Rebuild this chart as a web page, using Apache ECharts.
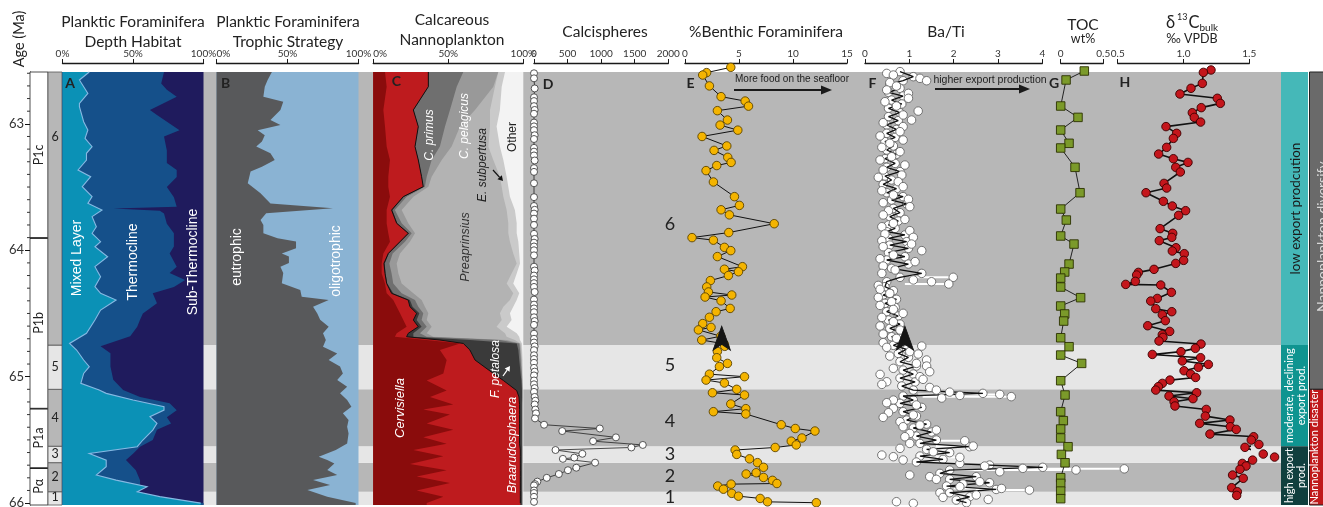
<!DOCTYPE html>
<html>
<head>
<meta charset="utf-8">
<script src="https://cdn.jsdelivr.net/npm/echarts@6/dist/echarts.min.js"></script>
<style>
html,body{margin:0;padding:0;background:#fff;}
#chart{width:1323px;height:507px;}
</style>
</head>
<body>
<div id="chart"></div>
<script>
// ---------------- axis extent & ticks ----------------
var AGE_MIN = 62.59, AGE_MAX = 66.015;
var ageTickLabels = [63, 64, 65, 66];
var ageMinorTicks = [62.6,62.7,62.8,62.9,63.1,63.2,63.3,63.4,63.5,63.6,63.7,63.8,63.9,64.1,64.2,64.3,64.4,64.5,64.6,64.7,64.8,64.9,65.1,65.2,65.3,65.4,65.5,65.6,65.7,65.8,65.9];

// ---------------- biozones & intervals ----------------
var zoneNames = ['P\u03b1', 'P1a', 'P1b', 'P1c'];
var zoneBase = [66.015, 65.72, 65.25, 63.90];
var zoneTop = [65.72, 65.25, 63.90, 62.59];

var intervalNames = ['1', '2', '3', '4', '5', '6'];
var intervalBase = [66.015, 65.91, 65.68, 65.55, 65.10, 64.75];
var intervalTop = [65.91, 65.68, 65.55, 65.10, 64.75, 62.59];
var intervalLabelAge = [65.955, 65.795, 65.615, 65.325, 64.925, 63.10];
var intervalBigLabelAge = [65.95, 65.786, 65.612, 65.349, 64.908, 63.79];

// ---------------- A: depth habitat ----------------
var mlAge = [62.59,62.653,62.759,62.838,62.864,62.983,63.049,63.115,63.181,63.233,63.286,63.365,63.418,63.497,63.576,63.629,63.682,63.734,63.814,63.866,63.932,63.972,64.051,64.130,64.209,64.288,64.341,64.394,64.473,64.552,64.657,64.737,64.789,64.868,64.921,64.974,65.053,65.106,65.132,65.185,65.238,65.264,65.317,65.369,65.422,65.501,65.554,65.607,65.660,65.712,65.778,65.818,65.870,65.910,65.949,66.0];
var mixedLayerPct = [19,12,18,12,12,15,18,16,21,17,17,11,20,14,21,18,28,21,24,21,27,23,32,23,27,23,27,38,27,23,17,5,10,15,19,15,13,26,31,50,72,72,62,67,64,57,53,19,31,31,24,38,60,53,69,98];
var tcAge = [62.59,62.68,62.73,62.785,62.89,62.93,63.05,63.10,63.21,63.31,63.365,63.42,63.50,63.58,63.655,63.67,63.687,63.71,63.79,63.866,63.97,64.025,64.13,64.18,64.235,64.29,64.34,64.42,64.50,64.55,64.605,64.68,64.76,64.815,64.92,65.025,65.105,65.16,65.21,65.265,65.32,65.37,65.42,65.50,65.555,65.61,65.66,65.74,65.82,65.925,65.975,66.0];
var mixedPlusThermoPct = [72,70,74,81,62,67,83,72,74,74,81,81,74,79,81,36,69,72,74,79,79,76,81,76,87,79,64,67,57,55,53,48,27,34,34,36,43,55,76,81,74,77,67,64,55,50,45,52,55,55,79,100];

// ---------------- B: trophic strategy ----------------
var trophAge = [62.59,62.653,62.706,62.785,62.825,62.89,62.97,63.01,63.05,63.09,63.14,63.18,63.233,63.286,63.34,63.378,63.47,63.55,63.63,63.668,63.708,63.76,63.80,63.866,63.906,63.93,63.985,64.025,64.05,64.10,64.13,64.18,64.26,64.315,64.367,64.394,64.446,64.50,64.55,64.605,64.657,64.71,64.763,64.816,64.868,64.92,64.974,65.027,65.08,65.132,65.185,65.238,65.29,65.343,65.396,65.449,65.528,65.58,65.633,65.66,65.686,65.739,65.778,65.818,65.857,65.897,65.949,66.0];
var eutrophicPct = [39,36,34,33,47,45,38,45,29,34,32,28,38,41,32,24,22,31,38,82,35,31,33,33,43,56,56,46,51,51,45,47,46,59,60,79,68,71,73,79,75,77,75,85,79,87,89,85,92,87,92,95,89,93,92,93,92,84,72,78,83,78,85,68,80,64,78,98];

// ---------------- C: calcareous nannoplankton (%) ----------------
var nannoAge = [62.59,62.706,62.89,63.022,63.18,63.286,63.418,63.497,63.576,63.682,63.787,63.866,63.932,64.025,64.104,64.183,64.262,64.341,64.394,64.446,64.499,64.552,64.605,64.657,64.684,64.71,64.737,64.789,64.868,64.974,65.03,65.11,65.16,65.22,65.26,65.30,65.37,65.42,65.48,65.53,65.58,65.63,65.69,65.74,65.79,65.84,65.90,65.95,66.0];
var cervisiella = [7.8,8.9,6.7,7.8,8.9,11.1,10,10,11.1,8.9, 8.9,10,11.1,6.7,5.6,5.6,7.8,8.9,13.3,15.6, 17.8,20,22.2,15.6,14.4,35.6,57.8,44.4,48.9,46.7, 35.6,48.9,37.8,53.3,33.3,51.1,35.6,53.3,33.3,48.9, 26.7,46.7,24.4,48.9,28.9,51.1,28.9,46.7,35.6];
var braarudosphaera = [28.9,27.8,20,22.2,18.9,18.9,22.2,23.3,8.9,3.3, 6.7,13.3,6.7,3.3,1.5,2.2,1.1,3.3,10,8.8, 11.1,6.7,7.8,7.7,7.8,8.8,2.2,20,18.9,33.3, 51.1,46.7,59.3,44.2,64.2,46.4,61.9,44.2,64.2,48.6, 71.3,51.3,73.6,49.1,69.1,46.9,69.1,51.3,62.4];
var fPetalosa = [0,0,0,0,0,0,0,0,0.4,0.5, 0.4,0.5,0.4,0.4,0.5,0.4,0.4,1.1,1.1,1.8, 1.8,2.2,2.2,3.4,4.5,20,35.6,32.3,29.5,18.2, 12,3.5,2,1.5,1.5,1.5,1.5,1.5,1.5,1.5, 1,1,1,1,1,1,1,1,1];
var cPrimus = [23.3,18.9,24.4,17.8,16.6,8.9,3.4,1.1,1.8,1.7, 2.9,1.8,2.9,2.5,3.1,4,4,5.6,3.4,3.8, 2.6,3.3,3.4,4.4,8.9,20,1.7,1.1,0.9,0.7, 0.4,0.2,0.2,0.2,0.2,0.2,0.2,0.2,0.2,0.2, 0.2,0.2,0.2,0.2,0.2,0.2,0.2,0.2,0.2];
var cPelagicus = [23.3,24.4,16.7,10,7.8,6.7,3.3,2.3,4.5,4.5, 4.4,2.2,3.3,4.9,4.9,4.5,5.6,7.8,4.4,4.4, 3.4,3.4,3.3,4.5,4.4,4.5,0.5,0.4,0.5,0.2, 0.2,0.2,0.2,0.2,0.2,0.2,0.2,0.2,0.2,0.2, 0.2,0.2,0.2,0.2,0.2,0.2,0.2,0.2,0.2];
var preaprinsius = [0,1.1,10,20,24.5,34.4,45.5,48.9,60,70, 66.7,62.2,66.7,75.5,80,75.5,70,66.6,58.9,52.3, 47.7,50,43.3,52.2,48.9,5.5,0.4,0.5,0.4,0.2, 0.2,0.1,0.1,0.2,0.2,0.2,0.2,0.2,0.2,0.2, 0.2,0.2,0.2,0.2,0.2,0.2,0.2,0.2,0.2];
var eSubpertusa = [4.5,4.5,6.6,4.4,7.7,6.7,4.5,4.4,4.4,5.5, 5.6,5.6,5.6,4,2.2,3.4,4.4,4,4.5,6.6, 6.7,6.6,6.7,7.8,8.4,3.4,0.9,0.6,0.5,0.3, 0.2,0.1,0.1,0.2,0.2,0.2,0.2,0.2,0.2,0.2, 0.2,0.2,0.2,0.2,0.2,0.2,0.2,0.2,0.2];
var nannoOther = [12.2,14.4,15.6,17.8,15.6,13.3,11.1,10,8.9,5.6, 4.4,4.4,3.3,2.7,2.2,4.4,6.7,2.7,4.4,6.7, 8.9,7.8,11.1,4.4,2.7,2.2,0.9,0.7,0.4,0.4, 0.3,0.3,0.3,0.2,0.2,0.2,0.2,0.2,0.2,0.2, 0.2,0.2,0.2,0.2,0.2,0.2,0.2,0.2,0.2];

// ---------------- D: calcispheres ----------------
var calcAge = [62.60,62.64,62.72,62.79,62.82,62.86,62.89,62.92,62.99,63.02,63.05,63.09,63.12,63.19,63.22,63.25,63.29,63.35,63.38,63.47,63.58,63.65,63.68,63.71,63.75,63.80,63.87,63.91,63.94,63.97,64.00,64.04,64.13,64.16,64.20,64.23,64.26,64.29,64.33,64.39,64.43,64.46,64.49,64.53,64.56,64.59,64.66,64.70,64.73,64.76,64.79,64.83,64.86,64.89,64.93,64.96,64.99,65.03,65.06,65.09,65.12,65.16,65.19,65.22,65.26,65.29,65.33,65.38,65.41,65.43,65.48,65.51,65.54,65.56,65.58,65.61,65.64,65.65,65.68,65.72,65.74,65.77,65.80,65.83,65.85,65.86,65.90,65.92,65.95,65.99];
var calcispheres = [0,0,10,0,0,0,10,0,0,0, 0,10,0,0,0,0,10,0,0,0, 0,0,10,0,0,0,0,10,0,0, 0,0,0,10,0,0,0,0,10,0, 0,0,0,0,10,0,0,0,0,10, 0,0,0,0,0,10,0,0,0,10, 0,10,20,10,20,30, 15,150,980,420,1220,880,1620,1450,320,720,600,430,910,630,505,370,190,50,15,0,0,0,0,0];

// ---------------- E: % benthic foraminifera ----------------
var benthAge = [62.553,62.595,62.614,62.70,62.785,62.82,62.86,62.896,62.97,63.01,63.05,63.10,63.175,63.21,63.265,63.305,63.33,63.37,63.46,63.576,63.645,63.68,63.72,63.79,63.86,63.90,63.92,63.977,64.003,64.05,64.13,64.15,64.17,64.20,64.24,64.29,64.33,64.354,64.37,64.40,64.46,64.486,64.53,64.58,64.61,64.63,64.68,64.71,64.74,64.76,64.80,64.85,64.895,64.92,64.98,65.00,65.027,65.05,65.10,65.127,65.145,65.216,65.253,65.277,65.295,65.38,65.41,65.43,65.485,65.51,65.54,65.56,65.58,65.615,65.65,65.68,65.717,65.76,65.77,65.797,65.82,65.845,65.85,65.865,65.89,65.923,65.945,65.963,65.99,65.997];
var benthicPct = [4.24,2.0,1.64,2.26,3.34,5.57,5.88,3.0,3.93,3.25,4.89,1.58,3.87,2.69,3.96,4.27,2.94,1.95,2.63,4.58,5.04,3.34,4.11,8.26,4.05,0.65,2.63,3.65,4.24,3.0,5.32,3.65,4.95,4.02,2.35,2.01,2.17,4.33,1.86,3.34,4.18,2.88,2.26,1.64,2.41,1.24,3.31,1.55,3.62,3.68,3.0,2.94,3.93,3.19,2.26,5.51,1.95,3.65,4.79,2.54,5.51,4.24,5.63,2.63,5.63,8.91,10.21,12.03,10.83,9.84,10.3,8.35,4.64,4.79,5.97,6.71,7.27,6.59,5.66,7.27,8.1,8.51,4.27,3.03,3.56,4.33,4.95,6.96,7.64,12.16];
var benthicTrendArrow = [[3.4, 64.60]];

// ---------------- F: Ba/Ti  ([age, value]) ----------------
var baTiLine = [[62.587,0.79],[62.627,1.09],[62.659,0.86],[62.685,0.56],[62.719,0.79],[62.751,0.53],[62.780,0.86],[62.812,0.60],[62.843,0.83],[62.877,0.53],[62.912,0.79],[62.943,0.53],[62.975,0.75],[63.009,0.49],[63.044,0.71],[63.075,0.49],[63.107,0.68],[63.141,0.45],[63.175,0.64],[63.207,0.49],[63.241,0.71],[63.276,0.45],[63.313,0.68],[63.344,0.49],[63.378,0.79],[63.413,0.45],[63.444,0.60],[63.479,0.41],[63.513,0.71],[63.545,0.49],[63.576,0.86],[63.603,0.60],[63.634,0.94],[63.669,0.64],[63.703,0.79],[63.734,0.56],[63.769,0.75],[63.800,0.53],[63.827,0.68],[63.853,0.49],[63.879,0.90],[63.906,0.53],[63.932,0.94],[63.959,0.56],[63.985,0.98],[64.019,0.53],[64.051,0.90],[64.077,0.49],[64.109,0.98],[64.143,0.60],[64.183,1.28],[64.214,0.79],[64.249,0.49],[64.288,0.45],[64.320,0.64],[64.354,0.41],[64.388,0.71],[64.420,0.45],[64.452,0.68],[64.486,0.49],[64.520,0.75],[64.552,0.53],[64.584,0.79],[64.618,0.56],[64.652,0.83],[64.684,0.60],[64.718,0.86],[64.752,0.64],[64.784,0.94],[64.816,0.75],[64.847,0.98],[64.882,0.79],[64.916,1.16],[64.948,0.86],[64.979,1.09],[65.011,0.79],[65.042,1.13],[65.074,0.83],[65.106,1.09],[65.132,2.66],[65.153,0.86],[65.185,1.09],[65.211,0.79],[65.243,1.28],[65.277,0.86],[65.311,1.16],[65.343,0.94],[65.375,1.39],[65.406,1.09],[65.438,1.50],[65.470,1.16],[65.501,1.61],[65.528,1.24],[65.554,2.36],[65.575,1.39],[65.601,1.91],[65.628,1.24],[65.654,1.76],[65.675,1.16],[65.699,2.81],[65.717,4.01],[65.739,1.91],[65.765,1.69],[65.791,2.51],[65.812,1.91],[65.839,2.81],[65.865,1.84],[65.892,2.96],[65.918,1.91],[65.950,2.36],[65.976,2.06],[65.997,2.29]];
var baTiCloud = [[62.601,0.49],[62.614,0.64],[62.640,1.24],[62.659,1.39],[62.674,0.56],[62.701,0.71],[62.732,0.49],[62.759,0.98],[62.798,0.98],[62.825,0.45],[62.859,0.71],[62.899,1.20],[62.930,0.86],[62.970,1.05],[62.991,0.41],[63.022,0.86],[63.062,0.79],[63.096,0.34],[63.128,0.86],[63.154,0.56],[63.186,0.38],[63.220,0.79],[63.260,0.60],[63.286,0.34],[63.326,0.90],[63.365,0.41],[63.405,0.83],[63.423,0.30],[63.458,0.75],[63.497,0.86],[63.529,0.38],[63.563,0.64],[63.597,0.98],[63.624,0.41],[63.655,1.01],[63.687,0.53],[63.721,0.41],[63.756,0.90],[63.787,0.64],[63.814,0.38],[63.845,1.01],[63.872,0.45],[63.898,1.09],[63.924,0.38],[63.951,1.05],[63.972,0.41],[64.003,1.28],[64.038,0.64],[64.067,0.34],[64.090,1.13],[64.125,0.41],[64.156,0.68],[64.183,0.38],[64.235,1.09],[64.249,1.50],[64.278,0.30],[64.309,0.34],[64.341,0.56],[64.373,0.30],[64.407,0.60],[64.436,0.34],[64.468,0.64],[64.499,0.86],[64.531,0.38],[64.565,0.64],[64.599,0.34],[64.631,0.79],[64.663,0.41],[64.697,0.71],[64.731,0.41],[64.758,1.28],[64.768,0.49],[64.802,1.01],[64.821,1.20],[64.837,0.56],[64.868,1.39],[64.895,1.16],[64.916,1.39],[64.934,0.64],[64.961,1.46],[64.982,0.34],[65.000,1.24],[65.021,1.31],[65.040,0.49],[65.061,0.38],[65.085,1.46],[65.106,1.61],[65.122,1.91],[65.148,2.14],[65.169,1.73],[65.185,0.64],[65.206,0.49],[65.224,1.16],[65.251,0.64],[65.285,0.53],[65.303,1.09],[65.322,0.41],[65.356,0.79],[65.383,1.24],[65.396,0.86],[65.422,1.61],[65.449,1.01],[65.475,0.90],[65.528,1.01],[65.567,0.79],[65.594,1.54],[65.620,0.38],[65.633,0.64],[65.659,0.86],[65.686,2.14],[65.707,2.70],[65.725,3.56],[65.752,3.04],[65.778,1.01],[65.791,1.46],[65.812,1.61],[65.831,2.59],[65.849,2.21],[65.870,2.14],[65.918,1.69],[65.936,2.51],[65.955,1.76],[65.971,2.78],[65.989,0.71],[66.002,1.09]];
// replicate measurements joined by white bars: [age, from, to]
var baTiReplicates = [[64.214,1.0,1.99],[64.267,0.9,1.89],[65.140,1.2,3.04],[65.158,1.3,3.30],[65.507,1.5,2.25],[65.549,1.6,2.44],[65.638,1.6,2.14],[65.729,3.0,5.85],[65.738,2.0,4.76],[65.884,2.0,3.08],[65.897,2.5,3.71]];
var baTiTrendArrow = [[0.90, 64.60]];

// ---------------- G: TOC ----------------
var tocAge = [62.582,62.653,62.859,62.949,63.049,63.154,63.191,63.344,63.545,63.674,63.761,63.887,63.951,64.109,64.172,64.220,64.291,64.375,64.441,64.504,64.560,64.692,64.763,64.829,64.895,65.032,65.145,65.277,65.348,65.414,65.485,65.554,65.615,65.681,65.799,65.844,65.905,65.965];
var tocWt = [0.277,0.063,0.0,0.203,0.0,0.098,0.0,0.168,0.227,0.0,0.066,0.0,0.156,0.098,0.047,0.0,0.0,0.234,0.0,0.047,0.035,0.0,0.098,0.0,0.246,0.0,0.051,0.0,0.031,0.0,0.0,0.086,0.008,0.051,0.0,0.0,0.0,0.0];

// ---------------- H: d13C bulk ----------------
var d13cAge = [62.574,62.593,62.680,62.719,62.764,62.798,62.838,62.872,62.912,62.949,62.986,63.022,63.075,63.115,63.186,63.239,63.276,63.305,63.344,63.381,63.471,63.508,63.545,63.613,63.650,63.687,63.724,63.829,63.866,63.898,63.924,63.980,64.006,64.027,64.080,64.104,64.151,64.175,64.196,64.246,64.270,64.275,64.333,64.381,64.402,64.462,64.486,64.510,64.557,64.597,64.642,64.668,64.689,64.718,64.742,64.776,64.802,64.824,64.850,64.876,64.903,64.926,64.953,64.979,65.006,65.027,65.053,65.079,65.106,65.127,65.153,65.174,65.198,65.232,65.259,65.312,65.343,65.369,65.396,65.417,65.454,65.475,65.501,65.536,65.559,65.612,65.636,65.660,65.686,65.707,65.733,65.778,65.804,65.878,65.910,65.939];
var d13cBulk = [1.209,1.151,1.143,1.057,0.973,1.257,1.280,1.135,1.067,1.082,1.130,0.867,0.948,0.923,0.872,0.811,0.923,1.034,0.941,0.976,0.852,0.872,0.715,0.847,0.915,1.016,0.963,0.822,0.918,0.911,0.816,0.943,0.915,1.006,1.001,0.941,0.776,0.657,0.644,0.634,0.561,0.827,0.908,0.801,0.751,0.789,0.911,0.839,0.862,0.728,0.895,0.839,0.844,0.814,1.133,1.090,0.981,0.763,1.130,0.991,1.189,1.113,1.004,1.054,1.092,0.897,0.839,0.809,0.789,1.100,0.890,1.072,0.928,0.935,1.173,1.166,1.353,1.123,1.356,1.401,1.201,1.533,1.515,1.573,1.467,1.606,1.692,1.525,1.447,1.475,1.429,1.373,1.454,1.366,1.409,1.404];

// ---------------- right-hand interpretation bars ----------------
var exportPhases = ['low export prodcution', 'moderate, declining\nexport prod.', 'high export\nprod.'];
var exportTop = [62.59, 64.75, 65.55];
var exportBase = [64.75, 65.55, 66.015];
var nannoPhases = ['Nannoplankton diversify', 'Nannoplankton disaster'];
var nannoPhaseTop = [62.59, 65.10];
var nannoPhaseBase = [65.10, 66.015];

// ================= styling / layout =================
var GRAY = '#b7b7b7', LIGHT = '#e6e6e6';
var GT = 72, GH = 433;
var gridDefs = [[48,1233],[30,18],[48,14],[62.5,141],[216.5,142],[373.3,150],[534,134.3],[685,162],[865,177.3],[1060.7,42.6],[1117.7,131.6],[1281,42]];
var grids = gridDefs.map(function (g) { return {left: g[0], width: g[1], top: GT, height: GH, containLabel: false, outerBoundsMode: 'none'}; });

function hiddenX(gi) { return {gridIndex: gi, type: 'value', min: 0, max: 1, show: false}; }
function topAxis(gi, min, max, interval, fmt, alignMin) {
  return {gridIndex: gi, type: 'value', position: 'top', offset: 9, min: min, max: max, interval: interval,
    axisLine: {show: true, lineStyle: {color: '#1a1a1a', width: 1.4}},
    axisTick: {show: true, inside: false, length: 4, lineStyle: {color: '#1a1a1a', width: 1}},
    axisLabel: {show: true, fontSize: 10, color: '#333', margin: 4, fontFamily: 'Lato', alignMinLabel: alignMin || null,
      formatter: fmt || function (v) { return String(v); }},
    splitLine: {show: false}};
}
var pct = function (v) { return v + '%'; };
var xAxes = [hiddenX(0), hiddenX(1), hiddenX(2),
  topAxis(3, 0, 100, 50, pct), topAxis(4, 0, 100, 50, pct, 'left'), topAxis(5, 0, 100, 50, pct, 'left'),
  topAxis(6, 0, 2000, 500), topAxis(7, 0, 15, 5), topAxis(8, 0, 4, 1),
  topAxis(9, 0, 0.5, 0.5, function (v) { return v === 0 ? '0' : v.toFixed(1); }),
  topAxis(10, 0.5, 1.5, 0.5, function (v) { return v.toFixed(1); }),
  hiddenX(11)];
var yAxes = [];
for (var gi = 0; gi < 12; gi++) {
  if (gi === 1) {
    yAxes.push({gridIndex: 1, type: 'value', min: AGE_MIN, max: AGE_MAX, inverse: true, position: 'left',
      axisLine: {show: true, lineStyle: {color: '#111', width: 1}},
      axisTick: {show: true, length: 5, customValues: ageTickLabels, lineStyle: {color: '#111', width: 1}},
      axisLabel: {show: true, customValues: ageTickLabels, fontSize: 13, color: '#333', margin: 6, fontFamily: 'Lato'},
      splitLine: {show: false}});
  } else {
    yAxes.push({gridIndex: gi, type: 'value', min: AGE_MIN, max: AGE_MAX, inverse: true, show: false});
  }
}

// ---------- series helpers ----------
function polyFill(gi, ages, cum, color, z) {
  return {type: 'custom', xAxisIndex: gi, yAxisIndex: gi, silent: true, clip: false, z: z || 2,
    data: [[0, AGE_MIN]],
    renderItem: function (params, api) {
      var pts = [api.coord([0, AGE_MIN]), api.coord([cum[0], AGE_MIN])];
      for (var i = 0; i < ages.length; i++) pts.push(api.coord([cum[i], ages[i]]));
      pts.push(api.coord([cum[cum.length - 1], AGE_MAX]));
      pts.push(api.coord([0, AGE_MAX]));
      return {type: 'polygon', shape: {points: pts}, style: {fill: color}};
    }};
}
function polyEdge(gi, ages, vals, color, width) {
  return {type: 'custom', xAxisIndex: gi, yAxisIndex: gi, silent: true, clip: false, z: 2,
    data: [[0, AGE_MIN]],
    renderItem: function (params, api) {
      var pts = [];
      for (var i = 0; i < ages.length; i++) pts.push(api.coord([vals[i], ages[i]]));
      return {type: 'polyline', shape: {points: pts}, style: {stroke: color, lineWidth: width, fill: null}};
    }};
}
function pointLine(gi, data, sym, size, fill, border, lineColor, lineWidth, showSym, z) {
  return {type: 'line', xAxisIndex: gi, yAxisIndex: gi, data: data, clip: false, silent: true, z: z || 3,
    symbol: sym, symbolSize: size, showSymbol: showSym !== false,
    itemStyle: {color: fill, borderColor: border, borderWidth: 0.9},
    lineStyle: {color: lineColor, width: lineWidth}, emphasis: {disabled: true}};
}
function scatter(gi, data, sym, size, fill, border, z) {
  return {type: 'scatter', xAxisIndex: gi, yAxisIndex: gi, data: data, clip: false, silent: true, z: z || 3,
    symbol: sym, symbolSize: size, itemStyle: {color: fill, borderColor: border, borderWidth: 0.9, opacity: 1},
    emphasis: {disabled: true}};
}
function zip(ages, vals) { return ages.map(function (a, i) { return [vals[i], a]; }); }

var series = [];

// background interval bands
series.push({type: 'custom', xAxisIndex: 0, yAxisIndex: 0, silent: true, clip: false, z: 1,
  data: intervalTop.map(function (t) { return [0, t]; }),
  renderItem: function (params, api) {
    var i = params.dataIndex;
    var p1 = api.coord([0, intervalTop[i]]), p2 = api.coord([1, intervalBase[i]]);
    return {type: 'rect', shape: {x: p1[0], y: p1[1], width: p2[0] - p1[0], height: p2[1] - p1[1]},
      style: {fill: i % 2 ? GRAY : LIGHT}};
  }});
// big interval numbers between D and E (x in D-axis units)
series.push({type: 'custom', xAxisIndex: 6, yAxisIndex: 6, silent: true, clip: false, z: 4,
  data: intervalBigLabelAge.map(function (a) { return [2025, a]; }),
  renderItem: function (params, api) {
    var i = params.dataIndex, p = api.coord([2025, intervalBigLabelAge[i]]);
    return {type: 'text', x: p[0], y: p[1], style: {text: intervalNames[i], fill: '#222', fontSize: 18, fontFamily: 'Lato',
      textAlign: 'center', textVerticalAlign: 'middle', align: 'center', verticalAlign: 'middle'}};
  }});
// zone column
series.push({type: 'custom', xAxisIndex: 1, yAxisIndex: 1, silent: true, clip: false, z: 2,
  data: zoneTop.map(function (t) { return [0, t]; }),
  renderItem: function (params, api) {
    var i = params.dataIndex;
    var p1 = api.coord([0, zoneTop[i]]), p2 = api.coord([1, zoneBase[i]]);
    var cy = (p1[1] + p2[1]) / 2, cx = (p1[0] + p2[0]) / 2;
    var ch = [
      {type: 'rect', shape: {x: p1[0], y: p1[1], width: p2[0] - p1[0], height: p2[1] - p1[1]}, style: {fill: '#fff', stroke: '#222', lineWidth: 0.8}},
      {type: 'text', x: cx, y: cy, rotation: Math.PI / 2, style: {text: zoneNames[i], fill: '#222', fontSize: 12.5, fontFamily: 'Lato',
        textAlign: 'center', textVerticalAlign: 'middle', align: 'center', verticalAlign: 'middle'}}];
    if (i < zoneTop.length - 1) ch.push({type: 'line', shape: {x1: p1[0], y1: p1[1], x2: p2[0], y2: p1[1]}, style: {stroke: '#111', lineWidth: 2.4}});
    return {type: 'group', children: ch};
  }});
// minor age ticks (0.1 Ma) on the age axis
series.push({type: 'custom', xAxisIndex: 1, yAxisIndex: 1, silent: true, clip: false, z: 3,
  data: ageMinorTicks.map(function (a) { return [0, a]; }),
  renderItem: function (params, api) {
    var p = api.coord([0, ageMinorTicks[params.dataIndex]]);
    return {type: 'line', shape: {x1: p[0] - 3, y1: p[1], x2: p[0], y2: p[1]}, style: {stroke: '#333', lineWidth: 1}};
  }});
// interval column
series.push({type: 'custom', xAxisIndex: 2, yAxisIndex: 2, silent: true, clip: false, z: 2,
  data: intervalTop.map(function (t) { return [0, t]; }),
  renderItem: function (params, api) {
    var i = params.dataIndex;
    var p1 = api.coord([0, intervalTop[i]]), p2 = api.coord([1, intervalBase[i]]);
    var lab = api.coord([0.5, intervalLabelAge[i]]);
    return {type: 'group', children: [
      {type: 'rect', shape: {x: p1[0], y: p1[1], width: p2[0] - p1[0], height: p2[1] - p1[1]}, style: {fill: i % 2 ? GRAY : LIGHT, stroke: '#555', lineWidth: 0.8}},
      {type: 'text', x: lab[0], y: lab[1], style: {text: intervalNames[i], fill: '#222', fontSize: 12.5, fontFamily: 'Lato',
        textAlign: 'center', textVerticalAlign: 'middle', align: 'center', verticalAlign: 'middle'}}]};
  }});

// A
series.push(polyFill(3, [AGE_MIN, AGE_MAX], [100, 100], '#1f1b5d'));
series.push(polyFill(3, tcAge, mixedPlusThermoPct, '#15508a'));
series.push(polyFill(3, mlAge, mixedLayerPct, '#0b91b6'));
series.push(polyEdge(3, mlAge, mixedLayerPct, '#86b9e3', 1.1));
// B
series.push(polyFill(4, [AGE_MIN, AGE_MAX], [100, 100], '#8ab3d3'));
series.push(polyFill(4, trophAge, eutrophicPct, '#58595b'));
// C (stacked)
var nannoSpecies = [cervisiella, braarudosphaera, fPetalosa, cPrimus, cPelagicus, preaprinsius, eSubpertusa, nannoOther];
var nannoColors = ['#8a0c0c', '#be1b1e', '#3a3a3a', '#6f6f6f', '#999999', '#b3b3b3', '#cacaca', '#f3f3f3'];
var running = nannoAge.map(function () { return 0; }), nannoCum = [];
nannoSpecies.forEach(function (arr) { running = running.map(function (v, i) { return v + arr[i]; }); nannoCum.push(running.slice()); });
for (var k = nannoCum.length - 1; k >= 0; k--) series.push(polyFill(5, nannoAge, nannoCum[k], nannoColors[k]));
series.push(polyEdge(5, nannoAge, nannoCum[1], '#111', 1));

// D
series.push(pointLine(6, zip(calcAge, calcispheres), 'circle', 7, '#ffffff', '#444', '#222', 0.8));
// E
series.push(pointLine(7, zip(benthAge, benthicPct), 'circle', 8.5, '#f4b400', '#5a4300', '#111', 1));
series.push(scatter(7, benthicTrendArrow, 'arrow', [13, 24], '#151515', '#151515', 6));
// F
series.push({type: 'custom', xAxisIndex: 8, yAxisIndex: 8, silent: true, clip: false, z: 2,
  data: baTiReplicates.map(function (r) { return [r[2], r[0]]; }),
  renderItem: function (params, api) {
    var r = baTiReplicates[params.dataIndex];
    var p1 = api.coord([r[1], r[0]]), p2 = api.coord([r[2], r[0]]);
    return {type: 'line', shape: {x1: p1[0], y1: p1[1], x2: p2[0], y2: p2[1]}, style: {stroke: '#ffffff', lineWidth: 2}};
  }});
series.push(scatter(8, baTiLine.map(function (p) { return [p[1], p[0]]; }), 'circle', 8.5, '#ffffff', '#666', 3));
series.push(pointLine(8, baTiLine.map(function (p) { return [p[1], p[0]]; }), 'none', 0, '#111', '#111', '#111', 1.3, false, 4));
series.push(scatter(8, baTiCloud.map(function (p) { return [p[1], p[0]]; }), 'circle', 8.5, '#ffffff', '#666', 5));
series.push(scatter(8, baTiReplicates.map(function (r) { return [r[2], r[0]]; }), 'circle', 8.5, '#ffffff', '#666', 5));
series.push(scatter(8, baTiTrendArrow, 'arrow', [13, 24], '#151515', '#151515', 6));
// G
series.push(pointLine(9, zip(tocAge, tocWt), 'rect', 8.5, '#7b9a2a', '#2b3100', '#222', 1));
// H
series.push(pointLine(10, zip(d13cAge, d13cBulk), 'circle', 8.5, '#c4161c', '#3a0000', '#111', 1.6));

// right-hand bars
series.push({type: 'custom', xAxisIndex: 11, yAxisIndex: 11, silent: true, clip: false, z: 2,
  data: exportTop.map(function (t) { return [0, t]; }),
  renderItem: function (params, api) {
    var i = params.dataIndex;
    var p1 = api.coord([0, exportTop[i]]), p2 = api.coord([27 / 42, exportBase[i]]);
    var fills = ['#45b8b8', '#0f9490', '#103f3e'], tc = ['#1a1a1a', '#ffffff', '#ffffff'], fs = [13.5, 11, 11];
    return {type: 'group', children: [
      {type: 'rect', shape: {x: p1[0], y: p1[1], width: p2[0] - p1[0], height: p2[1] - p1[1]}, style: {fill: fills[i]}},
      {type: 'text', x: (p1[0] + p2[0]) / 2 + 1, y: (p1[1] + p2[1]) / 2, rotation: Math.PI / 2,
        style: {text: exportPhases[i], fill: tc[i], fontSize: fs[i], fontFamily: 'Lato', lineHeight: fs[i] + 1,
          textAlign: 'center', textVerticalAlign: 'middle', align: 'center', verticalAlign: 'middle'}}]};
  }});
series.push({type: 'custom', xAxisIndex: 11, yAxisIndex: 11, silent: true, clip: false, z: 2,
  data: nannoPhaseTop.map(function (t) { return [0, t]; }),
  renderItem: function (params, api) {
    var i = params.dataIndex;
    var p1 = api.coord([28.5 / 42, nannoPhaseTop[i]]), p2 = api.coord([1.2, nannoPhaseBase[i]]);
    var fills = ['#6a6a6a', '#c0191b'], tc = ['#d8d8d8', '#ffffff'], fs = [14, 11], dx = [12.5, 4.5], dy = [6, 0];
    return {type: 'group', children: [
      {type: 'rect', shape: {x: p1[0], y: p1[1], width: p2[0] - p1[0], height: p2[1] - p1[1]}, style: {fill: fills[i], stroke: '#222', lineWidth: 1}},
      {type: 'text', x: p1[0] + dx[i], y: (p1[1] + p2[1]) / 2 + dy[i], rotation: Math.PI / 2,
        style: {text: nannoPhases[i], fill: tc[i], fontSize: fs[i], fontFamily: 'Lato',
          textAlign: 'center', textVerticalAlign: 'middle', align: 'center', verticalAlign: 'middle'}}]};
  }});

// ---------------- text & annotation graphics ----------------
var G = [];
var R90 = Math.PI / 2;
function txt(x, y, s, o) {
  o = o || {};
  G.push({type: 'text', z: 50, x: x, y: y, rotation: o.rot || 0, silent: true,
    style: {text: s, fill: o.color || '#222', fontSize: o.size || 15.5, fontFamily: o.family || 'Lato',
      fontWeight: o.weight || 'normal', fontStyle: o.italic ? 'italic' : 'normal', lineHeight: o.lh || undefined,
      textAlign: 'center', textVerticalAlign: 'middle', align: 'center', verticalAlign: 'middle'}});
}
function arrow(x1, y1, x2, y2, color, w, hl, hw) {
  var a = Math.atan2(y2 - y1, x2 - x1), bx = x2 - hl * Math.cos(a), by = y2 - hl * Math.sin(a);
  G.push({type: 'line', z: 50, silent: true, shape: {x1: x1, y1: y1, x2: bx, y2: by}, style: {stroke: color, lineWidth: w}});
  G.push({type: 'polygon', z: 50, silent: true, shape: {points: [[x2, y2], [bx + hw * Math.sin(a), by - hw * Math.cos(a)], [bx - hw * Math.sin(a), by + hw * Math.cos(a)]]}, style: {fill: color}});
}
// titles
txt(19, 39, 'Age (Ma)', {rot: R90, size: 14.5});
txt(133, 31.5, 'Planktic Foraminifera\nDepth Habitat', {lh: 20});
txt(288, 31.5, 'Planktic Foraminifera\nTrophic Strategy', {lh: 20});
txt(452, 30, 'Calcareous\nNannoplankton', {lh: 20});
txt(605, 32, 'Calcispheres');
txt(766, 32, '%Benthic Foraminifera');
txt(946, 32, 'Ba/Ti');
txt(1083, 25, 'TOC', {size: 15.5});
txt(1083, 38.5, 'wt%', {size: 12.5});
G.push({type: 'text', z: 50, x: 1192, y: 23, silent: true, style: {
  text: '{d|\u03b4}{s|13}{d|C}{b|bulk}', textAlign: 'center', textVerticalAlign: 'middle', align: 'center', verticalAlign: 'middle',
  rich: {d: {fontSize: 16.5, fontFamily: 'Lato', fill: '#222', color: '#222', lineHeight: 20},
    s: {fontSize: 9, fontFamily: 'Lato', fill: '#222', color: '#222', lineHeight: 11, verticalAlign: 'top', padding: [0, 1, 0, 2]},
    b: {fontSize: 10, fontFamily: 'Lato', fill: '#222', color: '#222', lineHeight: 11, verticalAlign: 'bottom'}}}});
txt(1192, 38.5, '\u2030 VPDB', {size: 12.5});
// panel letters
[['A', 70, 83], ['B', 225.5, 83], ['C', 396.5, 81], ['D', 548, 84], ['E', 690.5, 83.5], ['F', 872.5, 83], ['G', 1054, 83], ['H', 1125, 82]].forEach(function (l) {
  txt(l[1], l[2], l[0], {weight: 'bold', size: 14, color: '#222'});
});
// in-panel labels
var AF = 'Liberation Sans';
txt(77, 258, 'Mixed Layer', {rot: R90, color: '#fff', size: 14, family: AF});
txt(133, 262, 'Thermocline', {rot: R90, color: '#fff', size: 14, family: AF});
txt(193, 262, 'Sub-Thermocline', {rot: R90, color: '#fff', size: 14, family: AF});
txt(237.5, 257, 'eutrophic', {rot: R90, color: '#fff', size: 14, family: AF});
txt(336.5, 261, 'oligotrophic', {rot: R90, color: '#fff', size: 14, family: AF});
txt(430, 135, 'C. primus', {rot: R90, color: '#fff', size: 12, family: AF, italic: true});
txt(465, 126, 'C. pelagicus', {rot: R90, color: '#fff', size: 12, family: AF, italic: true});
txt(483, 165, 'E. subpertusa', {rot: R90, color: '#222', size: 12, family: AF, italic: true});
txt(513, 137, 'Other', {rot: R90, color: '#222', size: 12, family: AF});
txt(466, 247, 'Preaprinsius', {rot: R90, color: '#333', size: 12.5, family: AF, italic: true});
txt(400, 408, 'Cervisiella', {rot: R90, color: '#fff', size: 13, family: AF, italic: true});
txt(496, 369, 'F. petalosa', {rot: R90, color: '#fff', size: 12, family: AF, italic: true});
txt(513, 445, 'Braarudosphaera', {rot: R90, color: '#fff', size: 12.5, family: AF, italic: true});
arrow(493, 170, 503, 181, '#111', 1.2, 5, 3);
arrow(503, 376, 510, 366, '#fff', 1.2, 5, 3);
txt(792, 79, 'More food on the seafloor', {size: 10, family: AF, color: '#222'});
arrow(734, 90, 832, 90, '#1a1a1a', 2, 11, 4.5);
txt(990, 80, 'higher export production', {size: 10.5, family: AF, color: '#222'});
arrow(935, 89, 1030, 89, '#1a1a1a', 2, 11, 4.5);

var chart = echarts.init(document.getElementById('chart'));
chart.setOption({
  animation: false,
  backgroundColor: '#ffffff',
  grid: grids,
  xAxis: xAxes,
  yAxis: yAxes,
  series: series,
  graphic: G
});
</script>
</body>
</html>
